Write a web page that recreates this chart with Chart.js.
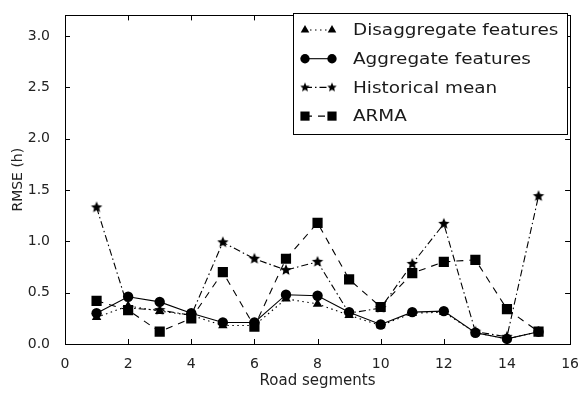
<!DOCTYPE html>
<html><head><meta charset="utf-8">
<script src="https://cdn.jsdelivr.net/npm/chart.js@4/dist/chart.umd.min.js"></script>
<style>html,body{margin:0;padding:0;background:#fff}#wrap{width:583px;height:393px}</style>
</head><body><div id="wrap"><canvas id="c" width="583" height="393"></canvas></div>
<script>
const segments = [1,2,3,4,5,6,7,8,9,10,11,12,13,14,15];
const disaggregate   = [0.26,0.37,0.32,0.28,0.18,0.18,0.44,0.39,0.28,0.18,0.30,0.31,0.11,0.05,0.12];
const aggregate      = [0.30,0.46,0.41,0.30,0.21,0.21,0.48,0.47,0.31,0.19,0.31,0.32,0.11,0.05,0.12];
const historicalMean = [1.33,0.35,0.33,0.28,0.99,0.83,0.72,0.80,0.30,0.35,0.78,1.17,0.12,0.07,1.44];
const arma           = [0.42,0.33,0.12,0.25,0.70,0.17,0.83,1.18,0.63,0.36,0.69,0.80,0.82,0.34,0.12];
const seriesLabels = ['Disaggregate features','Aggregate features','Historical mean','ARMA'];
const xTicks = [0,2,4,6,8,10,12,14,16];
const yTicks = [0,0.5,1.0,1.5,2.0,2.5,3.0];

function starCanvas(r){
  const c=document.createElement('canvas');const s=Math.ceil(r*2+2);c.width=s;c.height=s;
  const g=c.getContext('2d');g.fillStyle='#000';g.beginPath();
  for(let i=0;i<10;i++){const a=-Math.PI/2+i*Math.PI/5;const rr=i%2?r*0.45:r;
    g.lineTo(s/2+rr*Math.cos(a),s/2+rr*Math.sin(a));}
  g.closePath();g.fill();return c;
}
const star = starCanvas(6);
const starSmall = starCanvas(5);
const pts = arr => segments.map((x,i)=>({x, y:arr[i]}));
const styles = [
  {pointStyle:'triangle', pointRadius:5.5, borderDash:[1.5,3.5], order:3},
  {pointStyle:'circle', pointRadius:5.2, borderDash:[], order:2},
  {pointStyle:star, pointRadius:6, borderDash:[7,3,1.5,3], order:1},
  {pointStyle:'rect', pointRadius:7.2, borderDash:[7,6], order:0}
];
const seriesData=[disaggregate,aggregate,historicalMean,arma];
const datasets = seriesData.map((arr,i)=>({
  label: seriesLabels[i], data: pts(arr), borderColor:'#000', backgroundColor:'#000',
  pointBackgroundColor:'#000', pointBorderColor:'#000', borderWidth:1.1, pointBorderWidth:0,
  tension:0, fill:false, ...styles[i]
}));

const framePlugin = {
  id:'frame',
  afterDraw(chart){
    const {ctx, chartArea:a, scales:{x,y}} = chart;
    ctx.save();
    ctx.strokeStyle='#000';ctx.lineWidth=1;
    ctx.strokeRect(Math.round(a.left)+0.5, Math.round(a.top)+0.5, Math.round(a.right-a.left), Math.round(a.bottom-a.top));
    const L=5;
    ctx.beginPath();
    xTicks.forEach(v=>{const px=Math.round(x.getPixelForValue(v))+0.5;
      ctx.moveTo(px,a.bottom);ctx.lineTo(px,a.bottom-L);ctx.moveTo(px,a.top);ctx.lineTo(px,a.top+L);});
    yTicks.forEach(v=>{const py=Math.round(y.getPixelForValue(v))+0.5;
      ctx.moveTo(a.left,py);ctx.lineTo(a.left+L,py);ctx.moveTo(a.right,py);ctx.lineTo(a.right-L,py);});
    ctx.stroke();
    // legend
    const bx=293, by=13, bw=274, bh=121;
    ctx.fillStyle='#fff';ctx.fillRect(bx,by,bw,bh);
    ctx.strokeRect(bx+0.5,by+0.5,bw,bh);
    chart.data.datasets.forEach((ds,i)=>{
      const cy = by+17+i*28.7;
      const x1=bx+12, x2=bx+39;
      ctx.save();ctx.setLineDash(ds.borderDash||[]);ctx.lineWidth=1.1;ctx.strokeStyle='#000';
      ctx.beginPath();ctx.moveTo(x1,cy);ctx.lineTo(x2,cy);ctx.stroke();ctx.restore();
      const ps = ds.pointStyle===star ? starSmall : ds.pointStyle;
      const opt={pointStyle:ps, radius:ds.pointRadius*0.9, rotation:0, borderWidth:0};
      ctx.fillStyle='#000';ctx.strokeStyle='#000';
      Chart.helpers.drawPoint(ctx,opt,x1,cy);
      Chart.helpers.drawPoint(ctx,opt,x2,cy);
      ctx.save();ctx.translate(bx+60,cy);ctx.scale(1.15,1);
      ctx.fillStyle='#1a1a1a';ctx.font='16px "DejaVu Sans"';ctx.textBaseline='middle';
      ctx.fillText(ds.label,0,1);ctx.restore();
    });
    ctx.restore();
  }
};

new Chart(document.getElementById('c'), {
  type:'line',
  data:{datasets},
  options:{
    responsive:false, animation:false, devicePixelRatio:1,
    layout:{padding:{left:0,right:7,top:4,bottom:0}},
    plugins:{legend:{display:false}, tooltip:{enabled:false}},
    scales:{
      x:{type:'linear', min:0, max:16,
        afterBuildTicks:s=>{s.ticks=xTicks.map(v=>({value:v}));},
        afterFit:s=>{s.height=49;},
        grid:{display:false}, border:{display:false},
        ticks:{font:{family:'DejaVu Sans',size:14}, color:'#222', padding:4, maxRotation:0, autoSkip:false, callback:v=>String(v)},
        title:{display:true, text:'Road segments', font:{family:'DejaVu Sans',size:15}, color:'#222', padding:{top:2,bottom:3}}
      },
      y:{type:'linear', min:0, max:3.2,
        afterBuildTicks:s=>{s.ticks=yTicks.map(v=>({value:v}));},
        afterFit:s=>{s.width=65;},
        grid:{display:false}, border:{display:false},
        ticks:{font:{family:'DejaVu Sans',size:14}, color:'#222', padding:7, autoSkip:false, callback:v=>Number(v).toFixed(1)},
        title:{display:true, text:'RMSE (h)', font:{family:'DejaVu Sans',size:14}, color:'#222', padding:{top:10,bottom:0}}
      }
    }
  },
  plugins:[framePlugin]
});
</script></body></html>
